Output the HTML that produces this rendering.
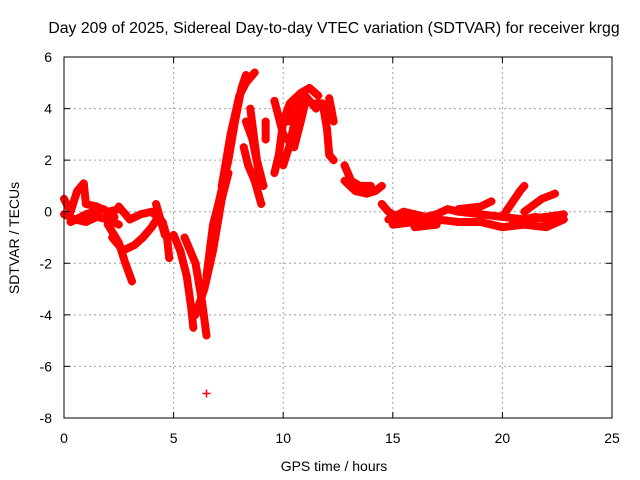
<!DOCTYPE html>
<html><head><meta charset="utf-8"><style>
html,body{margin:0;padding:0;background:#fff;}
svg{display:block;font-family:"Liberation Sans",sans-serif;}
</style></head><body>
<svg id="chart" width="640" height="480">
<text x="334" y="33" font-size="15.8" text-anchor="middle" fill="#000">Day 209 of 2025, Sidereal Day-to-day VTEC variation (SDTVAR) for receiver krgg</text>
<text x="334" y="471" font-size="14" text-anchor="middle">GPS time / hours</text>
<text x="19" y="238" font-size="14" text-anchor="middle" transform="rotate(-90 19 238)">SDTVAR / TECUs</text>
<g id="grid"></g><g id="marks"></g>
<rect x="64" y="57" width="548" height="361" fill="none" stroke="#000" stroke-width="1"/>
<g id="ticks"></g>
</svg>
<script>
const xTicks=[0,5,10,15,20,25];
const yTicks=[6,4,2,0,-2,-4,-6,-8];
const tracks=[
[[0,0.5],[0.3,0],[0.6,0.8],[0.9,1.1],[1.0,0.3],[1.5,0.2],[2,0],[2.5,0.1]],
[[0,-0.1],[0.5,-0.3],[1,-0.4],[1.5,-0.2],[2,-0.3],[2.5,-0.5]],
[[0.3,-0.4],[1,-0.1],[1.8,0.1],[2.3,-0.2]],
[[2.0,-0.5],[2.5,-1.2],[2.8,-2],[3.1,-2.7]],
[[2.2,-1],[2.7,-1.5],[3.2,-1.3],[3.6,-1],[4,-0.6],[4.3,-0.2]],
[[2.5,0.2],[3,-0.3],[3.5,-0.1],[4,0],[4.5,-0.4],[4.7,-1.0],[4.8,-1.8]],
[[4.2,0.3],[4.4,-0.3],[4.6,-0.9]],
[[5,-0.9],[5.3,-1.5],[5.6,-2.5],[5.8,-3.7],[5.9,-4.5]],
[[5.5,-1],[6.0,-2],[6.3,-3.5],[6.5,-4.8]],
[[6,-4],[6.4,-3],[6.8,-1.5],[7.2,0.5],[7.5,1.5]],
[[6.5,-2.5],[6.8,-0.5],[7.1,0.5],[7.5,2],[7.8,3.5],[8.1,4.8],[8.3,5.3]],
[[7.2,1],[7.6,3],[8,4.5],[8.3,5],[8.7,5.4]],
[[8.2,2.5],[8.4,1.8],[8.7,1.2],[9,0.3]],
[[8.5,4],[8.8,2],[9.1,1]],
[[8.3,3.5],[8.6,2.8],[8.9,1.5]],
[[9.2,3.5],[9.2,2.8]],
[[9.6,1.5],[9.8,2.2],[10,3.5],[10.3,4.2],[10.8,4.6],[11.2,4.8],[11.6,4.5]],
[[9.6,4.3],[10,3],[10.5,2.5],[10.8,3.5],[11,4.2]],
[[10,1.8],[10.3,2.6],[10.6,3.8]],
[[10.2,3.5],[10.6,4.0],[11,4.5],[11.5,4.0]],
[[11.5,4.2],[11.8,4.2],[12,3.2],[12.1,2.2],[12.3,2.0]],
[[12.1,4.4],[12.3,3.5]],
[[12.8,1.8],[13.1,1.2],[13.5,1],[14,1]],
[[12.8,1.2],[13.3,0.8],[13.8,0.7],[14.2,0.8],[14.5,1]],
[[14.5,0.3],[14.8,0],[15.2,-0.2],[15.5,-0.3],[16,-0.1]],
[[14.8,-0.3],[15.5,0],[16.5,-0.2],[17,-0.1],[17.5,0.1],[18,0],[19,-0.1],[20,-0.2],[21,-0.3],[22,-0.2],[22.8,-0.1]],
[[15,-0.5],[16,-0.4],[17,-0.3],[18,-0.4],[19,-0.4],[20,-0.6],[21,-0.5],[22,-0.6],[22.8,-0.3]],
[[18,0.1],[19,0.2],[19.5,0.4]],
[[20,-0.2],[20.4,0.3],[20.8,0.8],[21.0,1.0]],
[[21,0],[21.8,0.5],[22.4,0.7]],
[[20.5,-0.4],[21.5,-0.2],[22.5,-0.4]],
[[16,-0.6],[17,-0.5]],
[[6.5,-7.05]]
];
const NS='http://www.w3.org/2000/svg';
const X0=64,X1=612,Y0=418,Y1=57,xmin=0,xmax=25,ymin=-8,ymax=6;
function sx(v){return X0+(v-xmin)/(xmax-xmin)*(X1-X0);}
function sy(v){return Y0-(v-ymin)/(ymax-ymin)*(Y0-Y1);}
function mk(tag,attrs){const e=document.createElementNS(NS,tag);for(const k in attrs)e.setAttribute(k,attrs[k]);return e;}
const grid=document.getElementById('grid'),ticks=document.getElementById('ticks'),marks=document.getElementById('marks');
xTicks.forEach(t=>{const x=sx(t);
 if(t>xmin&&t<xmax){const g=mk('line',{x1:x,x2:x,y1:Y1,y2:Y0,stroke:'#a0a0a0','stroke-dasharray':'2,3'});grid.appendChild(g);}
 const tk=mk('path',{d:`M${x},${Y0}v-6M${x},${Y1}v6`,stroke:'#000'});ticks.appendChild(tk);
 const l=mk('text',{x:x,y:Y0+25,'font-size':14,'text-anchor':'middle'});l.textContent=t;ticks.appendChild(l);});
yTicks.forEach(t=>{const y=sy(t);
 if(t>ymin&&t<ymax){const g=mk('line',{x1:X0,x2:X1,y1:y,y2:y,stroke:'#a0a0a0','stroke-dasharray':'2,3'});grid.appendChild(g);}
 const tk=mk('path',{d:`M${X0},${y}h6M${X1},${y}h-6`,stroke:'#000'});ticks.appendChild(tk);
 const l=mk('text',{x:X0-12,y:y+5,'font-size':14,'text-anchor':'end'});l.textContent=t;ticks.appendChild(l);});
tracks.forEach(tr=>{
 if(tr.length>1){const p=mk('polyline',{points:tr.map(d=>sx(d[0])+','+sy(d[1])).join(' '),fill:'none',stroke:'#ff0000','stroke-width':8,'stroke-linejoin':'round','stroke-linecap':'round'});marks.appendChild(p);}
 tr.forEach(d=>{const x=sx(d[0]),y=sy(d[1]);const m=mk('path',{d:`M${x-4},${y}h8M${x},${y-4}v8`,stroke:'#ff0000','stroke-width':1.5});marks.appendChild(m);});
});
</script>
</body></html>
